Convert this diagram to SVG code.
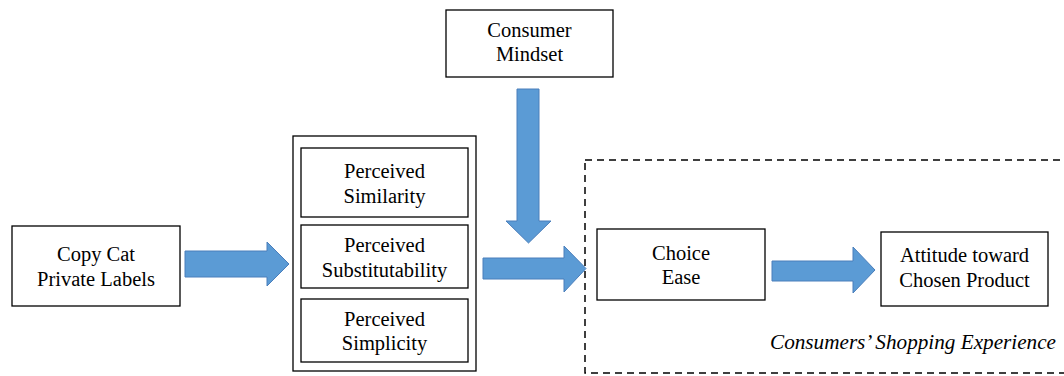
<svg xmlns="http://www.w3.org/2000/svg" width="1064" height="376" viewBox="0 0 1064 376">
<style>
.box{fill:#fff;stroke:#000;stroke-width:1.3}
.arr{fill:#5B9BD5;stroke:#4A7EBB;stroke-width:1}
.dash{fill:none;stroke:#000;stroke-width:1.5;stroke-dasharray:7,5}
</style>
<rect width="1064" height="376" fill="#fff"/>
<g font-family="Liberation Serif, serif" font-size="20.5" fill="#000" text-anchor="middle">
<g id="experience">
<rect class="dash" x="585" y="160" width="500" height="213"/>
<text x="1056" y="349" font-style="italic" font-size="21.2" text-anchor="end">Consumers’ Shopping Experience</text>
</g>
<g id="copycat">
<rect class="box" x="12" y="226" width="168" height="80"/>
<text x="96" y="261">Copy Cat</text>
<text x="96" y="286">Private Labels</text>
</g>
<g id="mindset">
<rect class="box" x="446" y="10" width="167" height="67"/>
<text x="529.5" y="37">Consumer</text>
<text x="529.5" y="61">Mindset</text>
</g>
<g id="perceived">
<rect class="box" x="293" y="136" width="183" height="235"/>
</g>
<g id="similarity">
<rect class="box" x="301" y="148" width="167" height="69"/>
<text x="384.5" y="178">Perceived</text>
<text x="384.5" y="203">Similarity</text>
</g>
<g id="substitutability">
<rect class="box" x="301" y="225" width="167" height="63"/>
<text x="384.5" y="252">Perceived</text>
<text x="384.5" y="277">Substitutability</text>
</g>
<g id="simplicity">
<rect class="box" x="301" y="299" width="167" height="63"/>
<text x="384.5" y="326">Perceived</text>
<text x="384.5" y="350">Simplicity</text>
</g>
<g id="choice">
<rect class="box" x="597" y="229" width="168" height="71"/>
<text x="681" y="260">Choice</text>
<text x="681" y="284">Ease</text>
</g>
<g id="attitude">
<rect class="box" x="881" y="232" width="167" height="74"/>
<text x="964.5" y="262">Attitude toward</text>
<text x="964.5" y="287">Chosen Product</text>
</g>
</g>
<g id="connectors">
<polygon class="arr" points="185,251 267,251 267,242 289,264 267,286 267,277 185,277"/>
<polygon class="arr" points="517,89 539,89 539,221 551,221 528.5,243 506,221 517,221"/>
<polygon class="arr" points="483,258 564,258 564,246 586,268.5 564,292 564,279 483,279"/>
<polygon class="arr" points="772,261 853,261 853,247 875,270 853,293 853,281 772,281"/>
</g>
</svg>
